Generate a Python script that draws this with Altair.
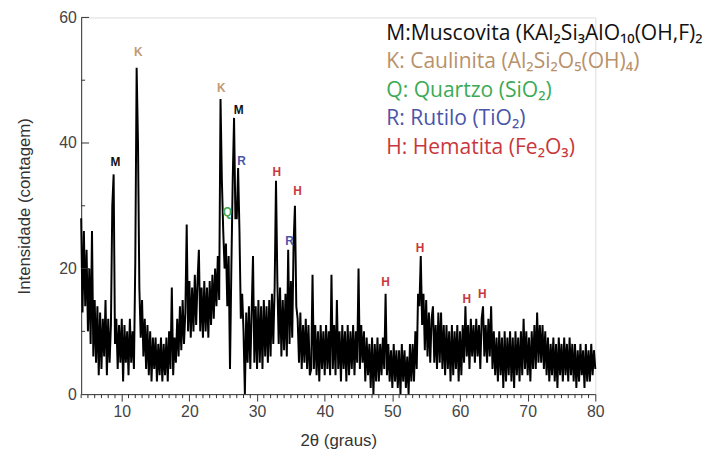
import altair as alt
import pandas as pd

# ---- data (XRD pattern, 0.2 deg sampling) ----
two_theta_start = 4.0
two_theta_step = 0.2
counts = [
    28, 13, 26, 14, 23,   # 4
    10, 20, 8, 26, 6,     # 5
    15, 5, 14, 3, 13,     # 6
    4, 12, 6, 15, 3,      # 7
    12, 5, 11, 30, 35,    # 8
    8, 12, 4, 11, 5,      # 9
    12, 2, 11, 5, 10,     # 10
    3, 12, 5, 10, 4,      # 11
    21, 52, 40, 17, 9,    # 12
    15, 6, 12, 4, 11,     # 13
    3, 10, 2, 9, 4,       # 14
    9, 2, 8, 3, 9,        # 15
    2, 8, 3, 9, 2,        # 16
    10, 4, 17, 3, 9,      # 17
    5, 12, 6, 14, 7,      # 18
    15, 8, 13, 27, 10,    # 19
    18, 9, 17, 10, 19,    # 20
    11, 18, 23, 10, 17,   # 21
    9, 18, 10, 17, 9,     # 22
    18, 11, 19, 12, 20,   # 23
    14, 22, 15, 47, 34,   # 24
    26, 20, 24, 14, 22,   # 25
    4, 20, 34, 44, 28,    # 26
    28, 36, 26, 12, 16,   # 27
    10, 0, 13, 5, 14,     # 28
    4, 13, 22, 5, 14,     # 29
    4, 15, 5, 14, 4,      # 30
    15, 6, 14, 5, 15,     # 31
    6, 16, 8, 17, 34,     # 32
    18, 8, 17, 6, 15,     # 33
    7, 16, 6, 23, 8,      # 34
    18, 9, 24, 30, 14,    # 35
    12, 5, 13, 4, 11,     # 36
    5, 12, 4, 11, 3,      # 37
    4, 19, 4, 11, 3,      # 38
    10, 2, 11, 4, 10,     # 39
    3, 11, 4, 10, 3,      # 40
    19, 4, 11, 3, 15,     # 41
    4, 10, 2, 11, 4,      # 42
    10, 2, 11, 3, 10,     # 43
    4, 11, 3, 10, 5,      # 44
    20, 4, 11, 5, 10,     # 45
    2, 9, 3, 8, 1,        # 46
    9, 0, 8, 2, 9,        # 47
    2, 8, 3, 9, 4,        # 48
    16, 3, 8, 2, 7,       # 49
    1, 8, 2, 7, 1,        # 50
    7, 0, 8, 2, 7,        # 51
    1, 6, 0, 8, 2,        # 52
    8, 2, 10, 4, 16,      # 53
    14, 22, 11, 16, 7,    # 54
    15, 6, 13, 5, 12,     # 55
    14, 5, 11, 4, 13,     # 56
    5, 13, 4, 11, 3,      # 57
    11, 4, 10, 2, 11,     # 58
    3, 10, 4, 11, 2,      # 59
    10, 3, 11, 5, 14,     # 60
    6, 11, 4, 12, 6,      # 61
    11, 5, 12, 6, 11,     # 62
    4, 12, 14, 6, 11,     # 63
    5, 12, 6, 14, 4,      # 64
    10, 3, 9, 2, 10,      # 65
    3, 9, 1, 10, 2,       # 66
    9, 3, 10, 2, 9,       # 67
    1, 10, 3, 9, 2,       # 68
    10, 3, 12, 4, 10,     # 69
    3, 9, 2, 10, 4,       # 70
    11, 4, 13, 5, 11,     # 71
    5, 11, 4, 10, 3,      # 72
    9, 2, 8, 3, 9,        # 73
    2, 8, 1, 9, 3,        # 74
    8, 2, 9, 3, 8,        # 75
    2, 9, 3, 8, 2,        # 76
    8, 1, 7, 2, 8,        # 77
    3, 7, 1, 8, 2,        # 78
    7, 2, 8, 3, 7,        # 79
    4,                    # 80
]

peak_labels = ["M", "K", "K", "M", "R", "Q", "H", "H", "R", "H", "H", "H", "H"]
peak_x = [9.07, 12.44, 24.7, 27.3, 27.7, 25.6, 32.9, 35.97, 34.8, 49.0, 54.1, 61.0, 63.3]
peak_y = [36.9, 54.5, 48.7, 45.2, 37.2, 29.0, 35.4, 32.3, 24.4, 17.8, 23.3, 15.1, 15.9]
peak_colors = ["#111111", "#c19a74", "#c19a74", "#111111", "#4a55a8", "#3caa55",
               "#c8373d", "#c8373d", "#4a55a8", "#c8373d", "#c8373d", "#c8373d", "#c8373d"]

legend_texts = [
    "M:Muscovita (KAl₂Si₃AlO₁₀(OH,F)₂",
    "K: Caulinita (Al₂Si₂O₅(OH)₄)",
    "Q: Quartzo (SiO₂)",
    "R: Rutilo (TiO₂)",
    "H: Hematita (Fe₂O₃)",
]
legend_colors = ["#111111", "#b8916b", "#3caa55", "#4a55a8", "#c8373d"]
legend_x = [49.1, 49.1, 49.1, 49.1, 49.1]
legend_y = [57.3, 52.9, 48.2, 43.8, 39.2]

x_major_ticks = [10, 20, 30, 40, 50, 60, 70, 80]
x_minor_ticks = [v for v in range(4, 81) if v % 10 != 0]
y_label_values = [0, 20, 40, 60]
y_major_ticks = [20, 40, 60]
y_minor_ticks = [10, 30, 50]

# ---- tables ----
df = pd.DataFrame({
    "two_theta": [round(two_theta_start + i * two_theta_step, 2) for i in range(len(counts))],
    "counts": counts,
})
peaks = pd.DataFrame({"two_theta": peak_x, "counts": peak_y, "t": peak_labels, "c": peak_colors})
leg = pd.DataFrame({"two_theta": legend_x, "counts": legend_y, "t": legend_texts, "c": legend_colors})
xminor = pd.DataFrame({"two_theta": x_minor_ticks})
ymajor = pd.DataFrame({"counts": y_major_ticks})
yminor = pd.DataFrame({"counts": y_minor_ticks})

W, H = 520, 381
AXIS_FONT = "Liberation Sans"
TICK_COLOR = "#333333"

xscale = alt.Scale(domain=[4, 80], nice=False, zero=False)
yscale = alt.Scale(domain=[0, 60], nice=False)

x_enc = alt.X(
    "two_theta:Q", scale=xscale,
    axis=alt.Axis(
        values=x_major_ticks, labelOverlap=False, labelFlush=False,
        tickSize=7, tickColor=TICK_COLOR, domainColor=TICK_COLOR,
        labelFont=AXIS_FONT, labelFontSize=16, labelColor="#444444", labelPadding=3,
        title="2θ (graus)", titleFont=AXIS_FONT, titleFontSize=17,
        titleFontWeight="normal", titleColor="#333333", titlePadding=13,
        grid=False,
    ),
)
y_enc = alt.Y(
    "counts:Q", scale=yscale,
    axis=alt.Axis(
        values=y_label_values, ticks=False, grid=False,
        domainColor=TICK_COLOR,
        labelFont=AXIS_FONT, labelFontSize=16, labelColor="#444444", labelPadding=5,
        title="Intensidade (contagem)", titleFont=AXIS_FONT, titleFontSize=17,
        titleFontWeight="normal", titleColor="#333333", titlePadding=25,
    ),
)

line = alt.Chart(df).mark_line(color="#000000", strokeWidth=2.0, interpolate="linear").encode(
    x=x_enc, y=y_enc,
)

# minor x ticks (outward, below the axis line)
xminor_layer = alt.Chart(xminor).mark_rule(color=TICK_COLOR, strokeWidth=1).encode(
    x=alt.X("two_theta:Q", scale=xscale),
    y=alt.value(H), y2=alt.value(H + 4),
)
# y ticks pointing inward
ymajor_layer = alt.Chart(ymajor).mark_rule(color=TICK_COLOR, strokeWidth=1).encode(
    y=alt.Y("counts:Q", scale=yscale),
    x=alt.value(0), x2=alt.value(8),
)
yminor_layer = alt.Chart(yminor).mark_rule(color=TICK_COLOR, strokeWidth=1).encode(
    y=alt.Y("counts:Q", scale=yscale),
    x=alt.value(0), x2=alt.value(4),
)

peak_text = alt.Chart(peaks).mark_text(
    font="Liberation Sans", fontSize=12, fontWeight="bold", align="center", baseline="middle"
).encode(
    x=alt.X("two_theta:Q", scale=xscale),
    y=alt.Y("counts:Q", scale=yscale),
    text="t:N",
    color=alt.Color("c:N", scale=None),
)

legend_text = alt.Chart(leg).mark_text(
    font="'Open Sans', 'Noto Sans', sans-serif", fontSize=21.3, align="left", baseline="middle"
).encode(
    x=alt.X("two_theta:Q", scale=xscale),
    y=alt.Y("counts:Q", scale=yscale),
    text="t:N",
    color=alt.Color("c:N", scale=None),
)

chart = alt.layer(
    line, xminor_layer, ymajor_layer, yminor_layer, peak_text, legend_text
).properties(
    width=W, height=H,
    autosize=alt.AutoSizeParams(type="none"),
    padding={"left": 74, "top": 7, "right": 116, "bottom": 58},
).configure_view(stroke=None).configure(background="white")

chart.save("out.html", embed_options={"renderer": "svg", "actions": False})
